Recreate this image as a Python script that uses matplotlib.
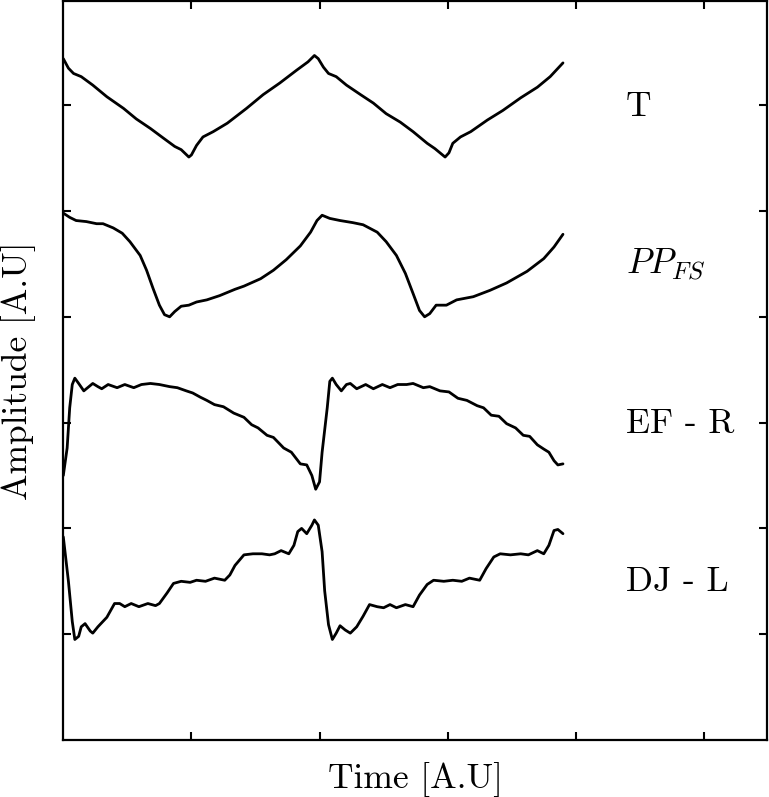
import matplotlib
matplotlib.use("Agg")
import matplotlib.pyplot as plt

plt.rcParams['font.family'] = 'serif'
plt.rcParams['font.serif'] = ['cmr10']
plt.rcParams['mathtext.fontset'] = 'cm'
plt.rcParams['axes.unicode_minus'] = False
plt.rcParams['axes.formatter.use_mathtext'] = True

# ---- data ----
t_x = [0.00, 0.04, 0.08, 0.14, 0.23, 0.34, 0.47, 0.57, 0.68, 0.78, 0.87, 0.92, 0.98, 1.00,
       1.04, 1.09, 1.17, 1.28, 1.43, 1.56, 1.69, 1.82, 1.91, 1.96, 1.99, 2.03, 2.07, 2.13,
       2.21, 2.32, 2.42, 2.52, 2.63, 2.73, 2.84, 2.90, 2.94, 2.98, 3.01, 3.04, 3.10, 3.18,
       3.31, 3.43, 3.57, 3.70, 3.80, 3.90]
t_y = [6.44, 6.35, 6.30, 6.27, 6.19, 6.08, 5.97, 5.87, 5.78, 5.69, 5.61, 5.58, 5.51, 5.53,
       5.62, 5.70, 5.75, 5.83, 5.97, 6.10, 6.21, 6.33, 6.41, 6.47, 6.44, 6.36, 6.30, 6.27,
       6.19, 6.10, 6.02, 5.92, 5.84, 5.75, 5.64, 5.59, 5.55, 5.51, 5.55, 5.64, 5.70, 5.75,
       5.86, 5.95, 6.07, 6.17, 6.27, 6.40]

pp_x = [0.00, 0.05, 0.10, 0.18, 0.26, 0.31, 0.39, 0.46, 0.52, 0.60, 0.65, 0.70, 0.75, 0.79,
        0.83, 0.87, 0.92, 0.98, 1.04, 1.12, 1.22, 1.34, 1.41, 1.54, 1.64, 1.74, 1.85, 1.93,
        1.98, 2.02, 2.08, 2.16, 2.26, 2.34, 2.45, 2.52, 2.60, 2.67, 2.73, 2.78, 2.82, 2.86,
        2.91, 2.99, 3.07, 3.20, 3.33, 3.46, 3.62, 3.75, 3.83, 3.90]
pp_y = [4.98, 4.94, 4.91, 4.90, 4.88, 4.88, 4.84, 4.79, 4.71, 4.58, 4.44, 4.27, 4.11, 4.02,
        4.00, 4.05, 4.10, 4.11, 4.14, 4.16, 4.20, 4.26, 4.29, 4.36, 4.44, 4.54, 4.67, 4.80,
        4.91, 4.96, 4.93, 4.91, 4.89, 4.87, 4.80, 4.71, 4.58, 4.41, 4.22, 4.06, 4.00, 4.03,
        4.11, 4.11, 4.16, 4.19, 4.25, 4.32, 4.43, 4.55, 4.66, 4.78]

ef_x = [0.00, 0.03, 0.05, 0.07, 0.09, 0.12, 0.16, 0.20, 0.23, 0.27, 0.30, 0.35, 0.42, 0.48,
        0.55, 0.61, 0.68, 0.75, 0.83, 0.89, 0.96, 1.01, 1.07, 1.12, 1.18, 1.25, 1.33, 1.41,
        1.47, 1.52, 1.59, 1.64, 1.72, 1.78, 1.85, 1.90, 1.94, 1.97, 2.00, 2.02, 2.06, 2.08,
        2.10, 2.13, 2.17, 2.21, 2.24, 2.29, 2.36, 2.42, 2.49, 2.55, 2.61, 2.68, 2.73, 2.81,
        2.86, 2.94, 3.01, 3.08, 3.15, 3.23, 3.28, 3.34, 3.40, 3.46, 3.53, 3.59, 3.64, 3.70,
        3.75, 3.79, 3.83, 3.86, 3.90]
ef_y = [2.50, 2.76, 3.14, 3.36, 3.42, 3.37, 3.30, 3.34, 3.37, 3.34, 3.32, 3.36, 3.33, 3.36,
        3.33, 3.36, 3.37, 3.36, 3.34, 3.33, 3.30, 3.28, 3.24, 3.21, 3.17, 3.15, 3.09, 3.05,
        2.98, 2.95, 2.88, 2.86, 2.76, 2.72, 2.61, 2.60, 2.50, 2.37, 2.44, 2.72, 3.14, 3.39,
        3.42, 3.36, 3.30, 3.36, 3.37, 3.32, 3.36, 3.32, 3.36, 3.33, 3.36, 3.36, 3.37, 3.33,
        3.34, 3.30, 3.29, 3.23, 3.21, 3.16, 3.14, 3.07, 3.06, 2.99, 2.95, 2.88, 2.87, 2.79,
        2.75, 2.72, 2.64, 2.60, 2.61]

dj_x = [0.00, 0.04, 0.07, 0.09, 0.12, 0.14, 0.17, 0.21, 0.23, 0.27, 0.34, 0.40, 0.44, 0.48,
        0.53, 0.59, 0.66, 0.72, 0.75, 0.81, 0.86, 0.92, 0.99, 1.04, 1.11, 1.18, 1.26, 1.30,
        1.34, 1.41, 1.48, 1.55, 1.61, 1.65, 1.70, 1.76, 1.80, 1.83, 1.86, 1.90, 1.94, 1.96,
        1.99, 2.02, 2.04, 2.07, 2.10, 2.13, 2.16, 2.20, 2.24, 2.29, 2.34, 2.39, 2.45, 2.50,
        2.55, 2.60, 2.67, 2.73, 2.78, 2.84, 2.89, 2.97, 3.04, 3.11, 3.17, 3.25, 3.30, 3.36,
        3.41, 3.49, 3.57, 3.63, 3.70, 3.75, 3.79, 3.83, 3.86, 3.90]
dj_y = [1.92, 1.50, 1.12, 0.95, 0.98, 1.07, 1.10, 1.03, 1.01, 1.07, 1.16, 1.29, 1.29, 1.26,
        1.29, 1.26, 1.29, 1.27, 1.29, 1.39, 1.48, 1.50, 1.49, 1.51, 1.50, 1.53, 1.51, 1.56,
        1.65, 1.75, 1.76, 1.76, 1.75, 1.76, 1.79, 1.76, 1.84, 1.97, 2.00, 1.95, 2.03, 2.08,
        2.03, 1.78, 1.41, 1.09, 0.95, 1.01, 1.08, 1.04, 1.01, 1.07, 1.17, 1.28, 1.26, 1.25,
        1.28, 1.25, 1.28, 1.26, 1.37, 1.47, 1.51, 1.50, 1.51, 1.50, 1.53, 1.51, 1.62, 1.73,
        1.76, 1.75, 1.76, 1.75, 1.79, 1.76, 1.84, 1.98, 1.99, 1.95]

labels = ['T', r'$PP_{FS}$', 'EF - R', 'DJ - L']
label_y = [5.90, 4.40, 2.90, 1.41]
label_x = 4.39

x_ticks = [1, 2, 3, 4, 5]
y_ticks = [1, 2, 3, 4, 5, 6]

# ---- figure ----
fig = plt.figure(figsize=(7.69, 7.97), dpi=100)
ax = fig.add_axes([63.3/769, 1-740/797, (766.7-63.3)/769, 739/797])

for xs, ys in [(t_x, t_y), (pp_x, pp_y), (ef_x, ef_y), (dj_x, dj_y)]:
    ax.plot(xs, ys, color='black', lw=2.0, solid_joinstyle='round', solid_capstyle='round')

for lab, ly in zip(labels, label_y):
    ax.text(label_x, ly, lab, fontsize=25.5, ha='left', va='baseline')

ax.set_xlim(0, 5.49)
ax.set_ylim(0, 6.985)
ax.set_xticks(x_ticks)
ax.set_yticks(y_ticks)
ax.set_xticklabels([])
ax.set_yticklabels([])
ax.tick_params(direction='in', length=6, width=1.5, top=True, right=True)
for s in ax.spines.values():
    s.set_linewidth(1.6)

ax.set_xlabel('Time [A.U]', fontsize=25.5, labelpad=12)
ax.set_ylabel('Amplitude [A.U]', fontsize=25.5, labelpad=16)

fig.savefig('out.png', dpi=100)
